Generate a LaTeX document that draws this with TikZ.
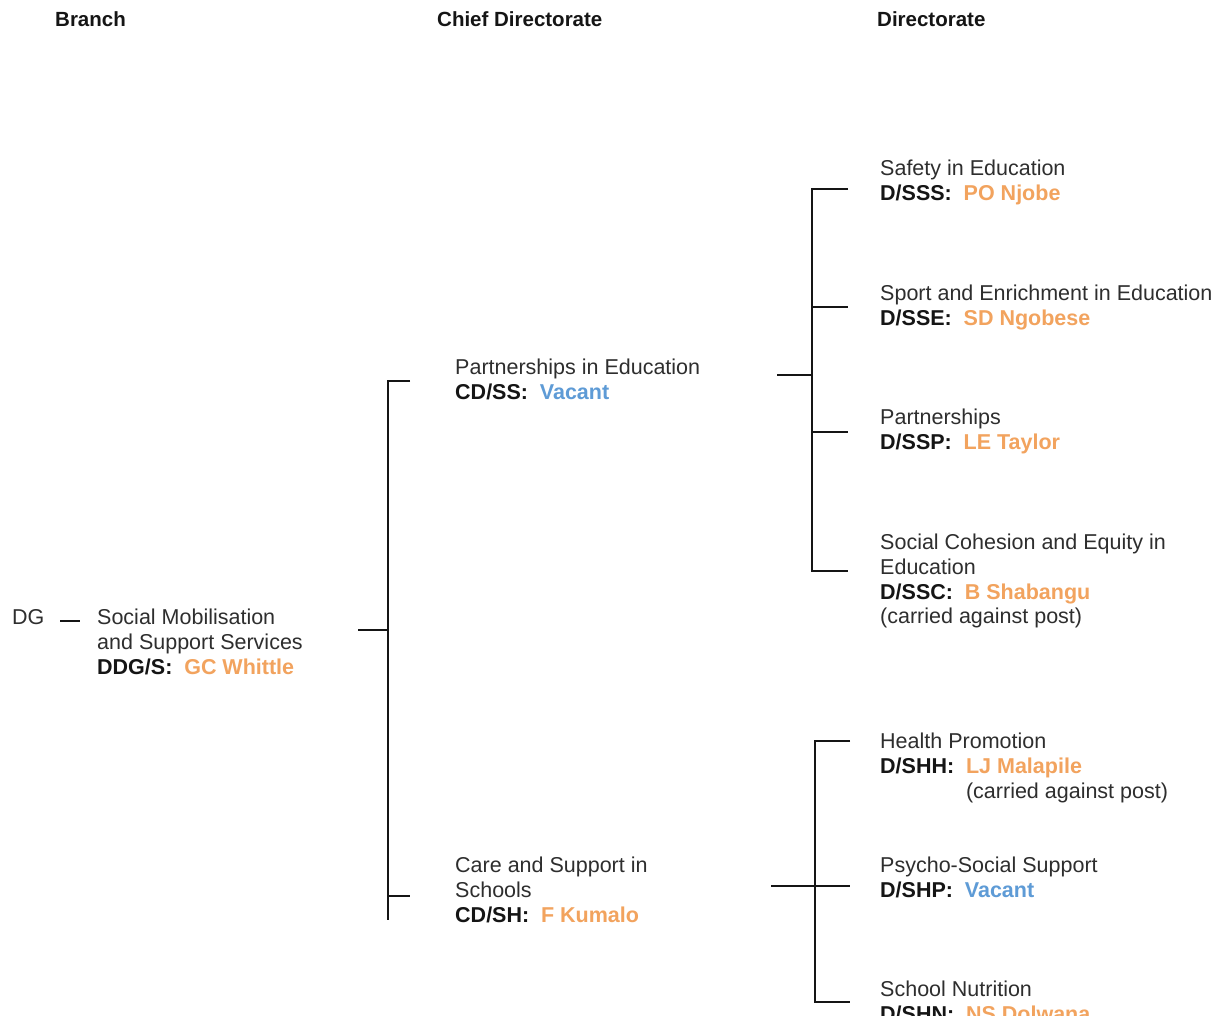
\documentclass[tikz,border=0pt]{standalone}
\usepackage{fontspec}
\setmainfont{Liberation Sans}
\definecolor{ink}{HTML}{2E2E2E}
\definecolor{codeink}{HTML}{151515}
\definecolor{nameorange}{HTML}{F2A35E}
\definecolor{vacantblue}{HTML}{5E9BD6}
% code of a post, followed by the person holding it
\newcommand{\postof}[3]{{\bfseries\color{codeink}#1:}\hspace{0.55em}{\bfseries\color{#3}#2}}
\newcommand{\postgap}[1]{\hphantom{\bfseries #1:\hspace{0.55em}}}
\begin{document}
\begin{tikzpicture}[x=1pt,y=-1pt,
  lbl/.style={anchor=north west,inner sep=0pt,align=left,text=ink,
    font=\fontsize{21.5}{24.7}\selectfont},
  hdr/.style={anchor=north west,inner sep=0pt,text=codeink,
    font=\fontsize{20.5}{24}\selectfont\bfseries},
  link/.style={draw=codeink,line width=2.4pt}]
\useasboundingbox (0,0) rectangle (1226,1016);
\fill[white] (0,0) rectangle (1226,1016);

% column headings
\node[hdr] (hbranch) at (55,11) {Branch};
\node[hdr] (hchief) at (437,11) {Chief Directorate};
\node[hdr] (hdir) at (877,11) {Directorate};

% branch
\node[lbl] (dg) at (12,609) {DG};
\node[lbl] (ddg) at (97,609) {Social Mobilisation\\and Support Services\\\postof{DDG/S}{GC Whittle}{nameorange}};

% chief directorates
\node[lbl] (cdss) at (455,359) {Partnerships in Education\\\postof{CD/SS}{Vacant}{vacantblue}};
\node[lbl] (cdsh) at (455,857) {Care and Support in\\Schools\\\postof{CD/SH}{F Kumalo}{nameorange}};

% directorates under CD/SS
\node[lbl] (dsss) at (880,160) {Safety in Education\\\postof{D/SSS}{PO Njobe}{nameorange}};
\node[lbl] (dsse) at (880,285) {Sport and Enrichment in Education\\\postof{D/SSE}{SD Ngobese}{nameorange}};
\node[lbl] (dssp) at (880,409) {Partnerships\\\postof{D/SSP}{LE Taylor}{nameorange}};
\node[lbl] (dssc) at (880,534) {Social Cohesion and Equity in\\Education\\\postof{D/SSC}{B Shabangu}{nameorange}\\(carried against post)};

% directorates under CD/SH
\node[lbl] (dshh) at (880,733) {Health Promotion\\\postof{D/SHH}{LJ Malapile}{nameorange}\\\postgap{D/SHH}(carried against post)};
\node[lbl] (dshp) at (880,857) {Psycho-Social Support\\\postof{D/SHP}{Vacant}{vacantblue}};
\node[lbl] (dshn) at (880,981) {School Nutrition\\\postof{D/SHN}{NS Dolwana}{nameorange}};

% junction points of the brackets
\coordinate (dgA) at (60,621);
\coordinate (dgB) at (80,621);
\coordinate (bIn) at (358,630);
\coordinate (bJ) at (388,630);
\coordinate (bTop) at (388,381);
\coordinate (bBot) at (388,920);
\coordinate (bTopEnd) at (410,381);
\coordinate (bLow) at (388,896);
\coordinate (bLowEnd) at (410,896);

\coordinate (sIn) at (777,375);
\coordinate (sJ) at (812,375);
\coordinate (s1) at (812,189);
\coordinate (s2) at (812,307);
\coordinate (s3) at (812,432);
\coordinate (s4) at (812,571);
\coordinate (s1e) at (848,189);
\coordinate (s2e) at (848,307);
\coordinate (s3e) at (848,432);
\coordinate (s4e) at (848,571);

\coordinate (hIn) at (771,886);
\coordinate (h1) at (815,741);
\coordinate (h2) at (815,886);
\coordinate (h3) at (815,1002);
\coordinate (h1e) at (850,741);
\coordinate (h2e) at (850,886);
\coordinate (h3e) at (850,1002);

% DG to branch
\draw[link] (dgA) -- (dgB);
% branch to chief directorates
\draw[link] (bIn) -- (bJ);
\draw[link] (bTopEnd) -- (bTop) -- (bBot);
\draw[link] (bLow) -- (bLowEnd);
% CD/SS to its directorates
\draw[link] (sIn) -- (sJ);
\draw[link] (s1e) -- (s1) -- (s4) -- (s4e);
\draw[link] (s2) -- (s2e);
\draw[link] (s3) -- (s3e);
% CD/SH to its directorates
\draw[link] (hIn) -- (h2e);
\draw[link] (h1e) -- (h1) -- (h3) -- (h3e);
\end{tikzpicture}
\end{document}
